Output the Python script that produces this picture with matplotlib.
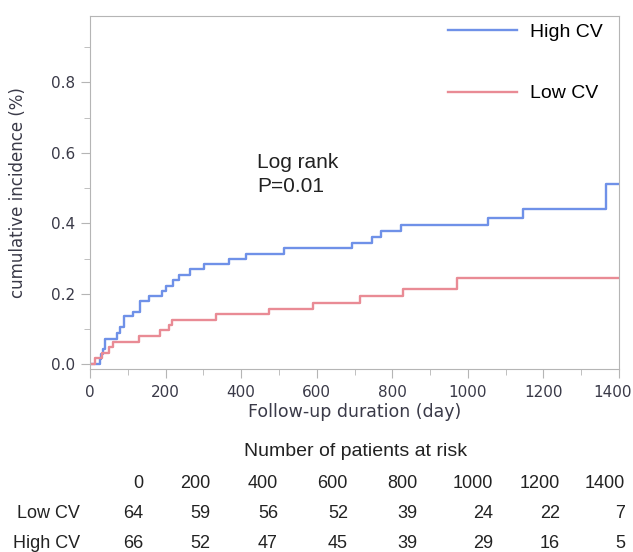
import matplotlib.pyplot as plt
from matplotlib.ticker import MultipleLocator
from matplotlib.transforms import ScaledTranslation

plt.rcParams['font.family'] = ['Liberation Sans', 'DejaVu Sans']

# step times (day) and cumulative incidence
high_days = [0, 26, 30, 34, 40, 71, 80, 90, 115, 133, 155, 190, 202, 219, 236, 265, 303,
             367, 413, 513, 694, 745, 769, 824, 1052, 1145, 1366, 1400]
high_inc = [0.0, 0.015, 0.03, 0.045, 0.073, 0.089, 0.106, 0.136, 0.148, 0.181, 0.195, 0.209,
            0.223, 0.24, 0.254, 0.27, 0.285, 0.299, 0.314, 0.33, 0.345, 0.361, 0.378, 0.394,
            0.416, 0.441, 0.512, 0.512]

low_days = [0, 13, 31, 49, 60, 131, 186, 208, 216, 334, 473, 590, 714, 829, 970, 1400]
low_inc = [0.0, 0.017, 0.033, 0.048, 0.064, 0.08, 0.097, 0.113, 0.127, 0.142, 0.158,
           0.174, 0.193, 0.214, 0.245, 0.245]

x_ticks = [0, 200, 400, 600, 800, 1000, 1200, 1400]
y_ticks = [0.0, 0.2, 0.4, 0.6, 0.8]

risk_times = [0, 200, 400, 600, 800, 1000, 1200, 1400]
risk_low = [64, 59, 56, 52, 39, 24, 22, 7]
risk_high = [66, 52, 47, 45, 39, 29, 16, 5]

blue = '#6f91e8'
red = '#e98b95'
grey = '#b5b5b5'
axtxt = '#3a3a48'
dark = '#222222'
W, H = 633, 552

fig = plt.figure(figsize=(6.33, 5.52), dpi=100)
ax = fig.add_axes([90 / W, 1 - 369 / H, 529 / W, 353 / H])

ax.step(high_days, high_inc, where='post', color=blue, lw=1.7, label='High CV')
ax.step(low_days, low_inc, where='post', color=red, lw=1.7, label='Low CV')

ax.set_xlim(0, 1400)
ax.set_ylim(-0.013, 0.988)
ax.set_xticks(x_ticks)
ax.xaxis.set_minor_locator(MultipleLocator(100))
ax.set_yticks(y_ticks)
ax.set_yticklabels(['%.1f' % v for v in y_ticks])
ax.yaxis.set_minor_locator(MultipleLocator(0.1))
for s in ax.spines.values():
    s.set_color(grey)
ax.tick_params(which='both', direction='out', color=grey, labelcolor=axtxt, labelsize=11,
               labelfontfamily='DejaVu Sans')
ax.tick_params(which='major', length=6.5)
ax.tick_params(which='minor', length=4)
ax.tick_params(axis='x', pad=5)
ax.tick_params(axis='y', pad=4)
# last x label pulled in from the right edge as in the reference
last = ax.xaxis.get_major_ticks()[-1].label1
last.set_transform(last.get_transform() + ScaledTranslation(-6 / 100, 0, fig.dpi_scale_trans))

ax.set_xlabel('Follow-up duration (day)', fontsize=12.5, color=axtxt, family='DejaVu Sans', labelpad=2)
ax.set_ylabel('cumulative incidence (%)', fontsize=12, color=axtxt, family='DejaVu Sans')
ax.yaxis.set_label_coords((27 - 90) / 529, 0.5)

ax.text(442, 0.556, 'Log rank', fontsize=15, color=dark, va='baseline')
ax.text(442, 0.488, 'P=0.01', fontsize=15, color=dark, va='baseline')

ax.legend(loc='upper left', bbox_to_anchor=((448 - 90) / 529, 0.979), frameon=False,
          fontsize=14, handlelength=3.55, handletextpad=0.67, labelspacing=2.25,
          borderpad=0, borderaxespad=0)

# number at risk table
fig.text(356 / W, 1 - 451 / H, 'Number of patients at risk', ha='center', va='center',
         fontsize=14, color=dark)
col_right = [143, 210, 278, 348, 417, 493, 560, 625]
for x, t, lo, hi in zip(col_right, risk_times, risk_low, risk_high):
    fig.text(x / W, 1 - 483 / H, str(t), ha='right', va='center', fontsize=13, color=dark)
    fig.text(x / W, 1 - 513 / H, str(lo), ha='right', va='center', fontsize=13, color=dark)
    fig.text(x / W, 1 - 543 / H, str(hi), ha='right', va='center', fontsize=13, color=dark)
fig.text(80 / W, 1 - 513 / H, 'Low CV', ha='right', va='center', fontsize=13, color=dark)
fig.text(80 / W, 1 - 543 / H, 'High CV', ha='right', va='center', fontsize=13, color=dark)

fig.savefig('out.png', dpi=100)
